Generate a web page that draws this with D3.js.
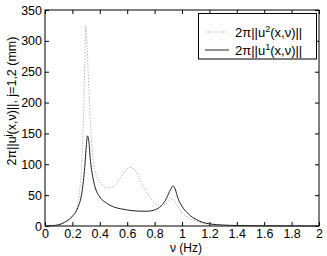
<!DOCTYPE html>
<html><head><meta charset="utf-8">
<script src="https://cdn.jsdelivr.net/npm/d3@7"></script>
<style>body{margin:0;background:#fff}svg{display:block}text{font-family:"Liberation Sans",Arial,sans-serif}</style>
</head><body><svg id="c" width="327" height="256"></svg>
<script>
const xTicks=[0,0.2,0.4,0.6,0.8,1,1.2,1.4,1.6,1.8,2];
const yTicks=[0,50,100,150,200,250,300,350];
const u1Freq=[0,0.05,0.1,0.15,0.2,0.24,0.27,0.29,0.30,0.31,0.32,0.33,0.35,0.37,0.40,0.45,0.5,0.55,0.6,0.65,0.7,0.75,0.8,0.85,0.88,0.91,0.935,0.95,0.97,1.0,1.05,1.1,1.15,1.2,1.3,1.4,1.6,2.0];
const u1Vals=[0,0.5,2,7,16,30,55,95,125,146,138,110,78,60,47,37,31,28,26,24.5,24,24,26,33,42,56,65,60,45,32,19,11,6,3.5,1.5,0.8,0.3,0];
const u2Freq=[0,0.1,0.15,0.2,0.23,0.25,0.265,0.28,0.29,0.297,0.305,0.315,0.33,0.35,0.375,0.4,0.45,0.5,0.55,0.6,0.62,0.65,0.7,0.75,0.8,0.84,0.88,0.91,0.93,0.95,0.98,1.0,1.05,1.1,1.2,1.4,2.0];
const u2Vals=[0,2,6,14,28,50,90,170,260,325,300,250,175,110,82,72,62,64,78,93,95,92,72,52,38,33,35,42,44,38,28,22,13,8,3,0.8,0];

const svg=d3.select("#c");
const L=45,R=319,T=10,B=226;
const x=d3.scaleLinear().domain([0,2]).range([L,R]);
const y=d3.scaleLinear().domain([0,350]).range([B,T]);

const g=svg.append("g");
const ax=(axis,tr,fs)=>{const a=g.append("g").attr("transform",tr).call(axis);a.select(".domain").remove();a.selectAll("line").attr("stroke","#000");a.selectAll("text").attr("font-size",fs).attr("fill","#000").style("font-family","'Liberation Sans',Arial,sans-serif");return a;};
ax(d3.axisBottom(x).tickValues(xTicks).tickSize(-4).tickPadding(3).tickFormat(d=>d3.format("")(d)),`translate(0,${B})`,12.5);
ax(d3.axisTop(x).tickValues(xTicks).tickSize(-4).tickFormat(""),`translate(0,${T})`,12);
ax(d3.axisLeft(y).tickValues(yTicks).tickSize(-4).tickPadding(3),`translate(${L},0)`,12.5);
ax(d3.axisRight(y).tickValues(yTicks).tickSize(-4).tickFormat(""),`translate(${R},0)`,12);
g.append("rect").attr("x",L).attr("y",T).attr("width",R-L).attr("height",B-T).attr("fill","none").attr("stroke","#000").attr("stroke-width",1);

const line=d3.line().x(d=>x(d[0])).y(d=>y(d[1])).curve(d3.curveMonotoneX);
g.append("path").datum(u2Freq.map((f,i)=>[f,u2Vals[i]])).attr("d",line).attr("fill","none").attr("stroke","#999").attr("stroke-width",1).attr("stroke-dasharray","1,2");
g.append("path").datum(u1Freq.map((f,i)=>[f,u1Vals[i]])).attr("d",line).attr("fill","none").attr("stroke","#222").attr("stroke-width",1);

svg.append("text").attr("x",186).attr("y",252).attr("text-anchor","middle").attr("font-size",12).text("ν (Hz)");
const yl=svg.append("text").attr("transform",`translate(16,101) rotate(-90)`).attr("text-anchor","middle").attr("font-size",12.5);
yl.append("tspan").text("2π||u");
yl.append("tspan").attr("dy",-5).attr("font-size",9).text("j");
yl.append("tspan").attr("dy",5).text("(x,ν)||, j=1,2 (mm)");

const lg=svg.append("g");
lg.append("rect").attr("x",198.5).attr("y",13.5).attr("width",118).attr("height",45.5).attr("fill","#fff").attr("stroke","#000");
const items=[["2",'#999',"1,2"],["1",'#222',null]];
items.forEach((it,i)=>{
  const yy=32+i*18;
  const l=lg.append("line").attr("x1",205).attr("x2",229).attr("y1",yy).attr("y2",yy).attr("stroke",it[1]);
  if(it[2]) l.attr("stroke-dasharray",it[2]);
  const t=lg.append("text").attr("x",235).attr("y",yy+5).attr("font-size",13);
  t.append("tspan").text("2π||u");
  t.append("tspan").attr("dy",-5).attr("font-size",9).text(it[0]);
  t.append("tspan").attr("dy",5).text("(x,ν)||");
});
</script></body></html>
